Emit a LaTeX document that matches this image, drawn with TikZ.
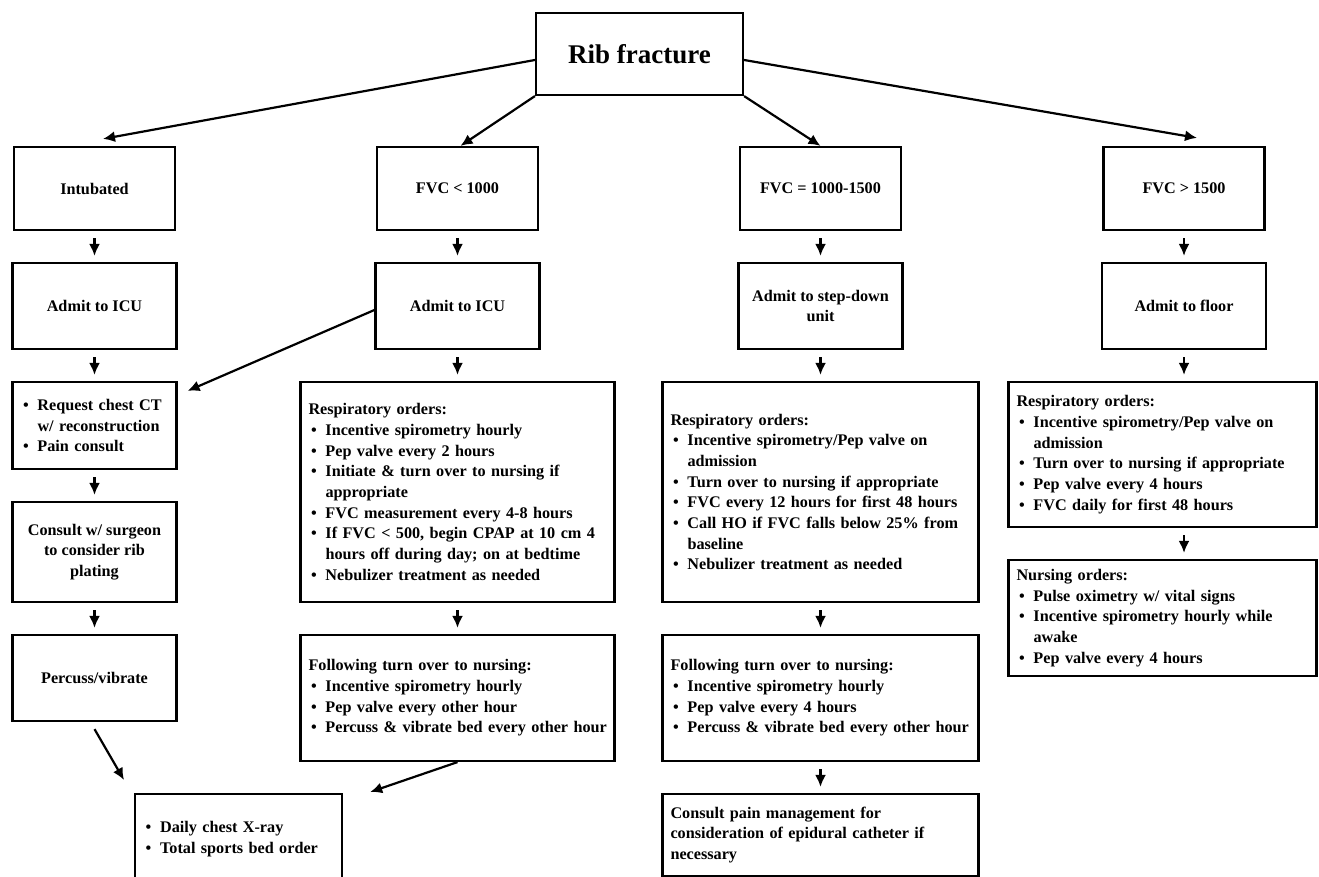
\documentclass[tikz,border=0pt]{standalone}
\usepackage{fontspec}
\setmainfont{Liberation Serif}
\usetikzlibrary{shapes,
                arrows.meta,
                positioning}
\newcommand{\bodyfont}{\fontsize{16.2pt}{20.7pt}\selectfont\bfseries}
\newcommand{\titlefont}{\fontsize{27pt}{32pt}\selectfont\bfseries}
\newcommand{\bul}{\makebox[17pt][l]{\hspace{2.5pt}\textbullet}}
\newcommand{\cont}{\hspace*{17pt}}
\tikzset{block/.style =
   {rectangle,
    draw,
    line width=2.2pt,
    text centered,
    align=center,
    font=\bodyfont,
    minimum width=164pt,
    minimum height=86pt}}
\tikzset{listbox/.style =
   {rectangle,
    draw,
    line width=2.2pt,
    align=left,
    inner xsep=8pt,
    font=\bodyfont}}
\tikzset{arrow/.style = {draw, line width=2.2pt, -{Latex[length=12pt,width=11pt]}}}
\tikzset{down/.style = {arrow, shorten <=7pt, shorten >=6pt}}

\begin{document}
\begin{tikzpicture}[x=1pt, y=-1pt, node distance=30.8pt]

    \useasboundingbox (0,0) rectangle (1319,877);

    % top of the tree
    \node [block,
           font=\titlefont,
           minimum width=207pt,
           minimum height=82pt] (rib) at (639.5,54) {Rib fracture};

    \node [block, minimum width=161pt, minimum height=83pt] (intub) at (94.5,188.5) {Intubated};
    \node [block, minimum width=161pt, minimum height=83pt] (fvcA) at (457.5,188.5) {FVC < 1000};
    \node [block, minimum width=161pt, minimum height=83pt] (fvcB) at (820.5,188.5) {FVC = 1000-1500};
    \node [block, minimum width=161pt, minimum height=83pt] (fvcC) at (1184,188.5) {FVC > 1500};

    % intubated
    \node [block, below = of intub] (icuA) {Admit to ICU};
    \node [listbox,
           text width=148pt,
           minimum height=87pt,
           below = of icuA] (ctreq)
    {\bul Request chest CT\\
     \cont w/ reconstruction\\
     \bul Pain consult};
    \node [block,
           minimum height=100pt,
           below = of ctreq] (surg)
    {Consult w/ surgeon\\ to consider rib\\ plating};
    \node [block, below = of surg] (percuss) {Percuss/vibrate};

    % FVC < 1000
    \node [block, below = of fvcA] (icuB) {Admit to ICU};
    \node [listbox,
           text width=298pt,
           minimum height=220pt,
           below = of icuB] (respB)
    {Respiratory orders:\\
     \bul Incentive spirometry hourly\\
     \bul Pep valve every 2 hours\\
     \bul Initiate \& turn over to nursing if\\
     \cont appropriate\\
     \bul FVC measurement every 4-8 hours\\
     \bul If FVC < 500, begin CPAP at 10 cm 4\\
     \cont hours off during day; on at bedtime\\
     \bul Nebulizer treatment as needed};
    \node [listbox,
           text width=298pt,
           minimum height=126pt,
           below = of respB] (nurseB)
    {Following turn over to nursing:\\
     \bul Incentive spirometry hourly\\
     \bul Pep valve every other hour\\
     \bul \mbox{Percuss \& vibrate bed every other hour}};

    % FVC = 1000-1500
    \node [block, below = of fvcB] (stepdn) {Admit to step-down\\ unit};
    \node [listbox,
           text width=300pt,
           minimum height=220pt,
           below = of stepdn] (respC)
    {Respiratory orders:\\
     \bul Incentive spirometry/Pep valve on\\
     \cont admission\\
     \bul Turn over to nursing if appropriate\\
     \bul FVC every 12 hours for first 48 hours\\
     \bul Call HO if FVC falls below 25\% from\\
     \cont baseline\\
     \bul Nebulizer treatment as needed};
    \node [listbox,
           text width=300pt,
           minimum height=126pt,
           below = of respC] (nurseC)
    {Following turn over to nursing:\\
     \bul Incentive spirometry hourly\\
     \bul Pep valve every 4 hours\\
     \bul \mbox{Percuss \& vibrate bed every other hour}};
    \node [listbox,
           text width=300pt,
           minimum height=82pt,
           below = of nurseC] (painC)
    {Consult pain management for\\
     consideration of epidural catheter if\\
     necessary};

    % FVC > 1500
    \node [block, below = of fvcC] (floor) {Admit to floor};
    \node [listbox,
           text width=292pt,
           minimum height=145pt,
           below = of floor,
           xshift=-21.5pt] (respD)
    {Respiratory orders:\\
     \bul Incentive spirometry/Pep valve on\\
     \cont admission\\
     \bul Turn over to nursing if appropriate\\
     \bul Pep valve every 4 hours\\
     \bul FVC daily for first 48 hours};
    \node [listbox,
           text width=292pt,
           minimum height=116pt,
           below = of respD] (nurseD)
    {Nursing orders:\\
     \bul Pulse oximetry w/ vital signs\\
     \bul Incentive spirometry hourly while\\
     \cont awake\\
     \bul Pep valve every 4 hours};

    % shared order
    \node [listbox,
           text width=191pt,
           minimum height=90pt,
           anchor=north west] (daily) at (134,793)
    {\bul Daily chest X-ray\\
     \bul Total sports bed order};

    % connectors
    \draw [arrow] ([yshift=-6pt]rib.west) -- ([xshift=8.5pt,yshift=7pt]intub.north);
    \draw [arrow] (rib.south west) -- ([xshift=3pt]fvcA.north);
    \draw [arrow] (rib.south east) -- (fvcB.north);
    \draw [arrow] ([yshift=-6pt]rib.east) -- ([xshift=13pt,yshift=8pt]fvcC.north);

    \draw [down] (intub.south) -- (icuA.north);
    \draw [down] (icuA.south) -- (ctreq.north);
    \draw [down] (ctreq.south) -- (surg.north);
    \draw [down] (surg.south) -- (percuss.north);

    \draw [down] (fvcA.south) -- (icuB.north);
    \draw [down] (icuB.south) -- (respB.north);
    \draw [down] (respB.south) -- (nurseB.north);

    \draw [down] (fvcB.south) -- (stepdn.north);
    \draw [down] (stepdn.south) -- (respC.north);
    \draw [down] (respC.south) -- (nurseC.north);
    \draw [down] (nurseC.south) -- (painC.north);

    \draw [down] (fvcC.south) -- (floor.north);
    \draw [down] (floor.south) -- (floor.south |- respD.north);
    \draw [down] (floor.south |- respD.south) -- (floor.south |- nurseD.north);

    \draw [arrow] ([yshift=-4pt]icuB.west) -- ([xshift=10pt,yshift=-10pt]ctreq.north east);
    \draw [arrow] ([yshift=-7pt]percuss.south) -- ([xshift=-10pt,yshift=13pt]daily.north west);
    \draw [arrow] (nurseB.south) -- ([xshift=27pt,yshift=1pt]daily.north east);

\end{tikzpicture}
\end{document}
